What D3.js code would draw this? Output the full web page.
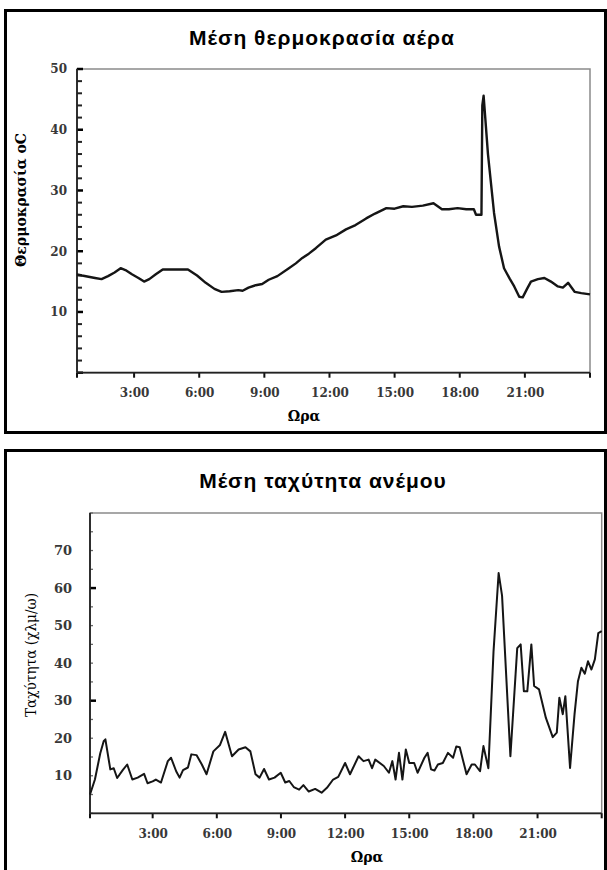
<!DOCTYPE html>
<html>
<head>
<meta charset="utf-8">
<script src="https://cdn.jsdelivr.net/npm/d3@7"></script>
<style>
  body { margin: 0; background: #fff; }
  svg { display: block; }
  .tick text { font-family: "DejaVu Serif", serif; font-weight: bold; fill: #383838; }
  .domain { display: none; }
</style>
</head>
<body>
<svg id="chart" width="607" height="870"></svg>
<script>
// --- data ---
var hourTicks = [3, 6, 9, 12, 15, 18, 21, 24];

// Μέση θερμοκρασία αέρα : [ώρα, °C]
var tempPoints = [
  [0.37,16.2],[0.6,16.0],[0.9,15.8],[1.2,15.6],[1.5,15.4],[1.8,15.9],[2.1,16.5],[2.38,17.2],
  [2.6,16.9],[2.9,16.2],[3.2,15.6],[3.46,15.0],[3.7,15.4],[4.0,16.2],[4.32,17.0],[4.7,17.0],
  [5.1,17.0],[5.48,17.0],[5.9,16.0],[6.3,14.8],[6.7,13.8],[7.03,13.3],[7.4,13.4],[7.8,13.6],
  [8.0,13.5],[8.27,14.0],[8.6,14.4],[8.9,14.6],[9.2,15.3],[9.6,15.9],[10.13,17.2],[10.45,18.0],
  [10.75,18.9],[11.05,19.6],[11.37,20.5],[11.83,21.9],[12.3,22.6],[12.76,23.6],[13.2,24.3],
  [13.69,25.4],[14.1,26.2],[14.62,27.1],[15.0,27.0],[15.4,27.4],[15.8,27.3],[16.3,27.5],
  [16.79,27.9],[17.18,26.9],[17.5,26.9],[17.9,27.1],[18.3,26.9],[18.65,26.9],[18.75,26.0],
  [19.0,26.0],[19.04,44.0],[19.1,45.6],[19.3,36.0],[19.58,26.3],[19.81,20.8],[20.04,17.2],
  [20.3,15.5],[20.51,14.2],[20.74,12.5],[20.9,12.4],[21.1,13.8],[21.28,15.0],[21.6,15.4],
  [21.9,15.6],[22.2,15.0],[22.52,14.2],[22.75,14.0],[22.99,14.8],[23.3,13.3],[23.6,13.1],[24.0,12.9]
];

// Μέση ταχύτητα ανέμου : [ώρα, χλμ/ω]
var windPoints = [
  [0.07,5],[0.3,9],[0.55,16],[0.71,19.2],[0.79,19.7],[1.02,11.7],[1.18,12],[1.34,9.4],[1.6,11.5],
  [1.81,13],[2.05,9],[2.3,9.5],[2.6,10.5],[2.76,8],[3.0,8.5],[3.15,9],[3.39,8.2],[3.71,13.9],
  [3.86,14.8],[4.1,11.2],[4.26,9.5],[4.42,11.5],[4.65,12.2],[4.81,15.7],[5.05,15.5],[5.3,13],
  [5.52,10.4],[5.84,16.5],[6.15,18.2],[6.39,21.7],[6.71,15.2],[7.02,17],[7.34,17.6],[7.57,16.5],
  [7.81,10.4],[8.0,9.5],[8.21,11.8],[8.44,9],[8.7,9.5],[8.99,10.8],[9.2,8.2],[9.39,8.6],[9.6,7],
  [9.85,6.3],[10.05,7.5],[10.3,5.8],[10.6,6.5],[10.9,5.5],[11.15,6.8],[11.44,9],[11.68,9.7],
  [12.0,13.4],[12.23,10.4],[12.63,15.2],[12.86,13.9],[13.1,14.3],[13.26,12],[13.41,14.3],
  [13.81,12.6],[14.05,10.8],[14.21,13.9],[14.36,9],[14.52,16.1],[14.68,9],[14.84,17],[15.0,13.4],
  [15.23,13.4],[15.39,10.8],[15.71,14.8],[15.86,16.1],[16.02,11.7],[16.18,11.4],[16.34,13],
  [16.57,13.4],[16.81,16.1],[17.05,14.8],[17.2,17.8],[17.36,17.6],[17.68,10.4],[17.92,13],
  [18.07,13],[18.31,11.2],[18.47,17.9],[18.7,12],[18.94,43],[19.18,64],[19.34,58],[19.73,15.2],
  [20.05,44],[20.21,45],[20.36,32.5],[20.52,32.5],[20.71,45],[20.84,33.9],[21.07,33],[21.39,25.4],
  [21.71,20.3],[21.9,21.5],[22.02,30.8],[22.18,26.4],[22.3,31.2],[22.52,12.1],[22.73,26.4],
  [22.89,35.2],[23.05,38.8],[23.21,37.2],[23.36,40.5],[23.52,38.3],[23.68,41],[23.84,48],[24.0,48.5]
];

var tempYTicks = d3.range(0, 51, 2);
var tempYLabels = [10, 20, 30, 40, 50];
var windYTicks = d3.range(0, 81, 5);
var windYLabels = [10, 20, 30, 40, 50, 60, 70];

var svg = d3.select("#chart");

function hourLabel(h) { return h === 24 ? "" : h + ":00"; }

function drawPanel(cfg) {
  // outer frame
  svg.append("rect")
    .attr("x", 5.5).attr("y", cfg.frameTop)
    .attr("width", 600).attr("height", cfg.frameHeight)
    .attr("fill", "none").attr("stroke", "#000").attr("stroke-width", 3);

  svg.append("text")
    .attr("x", cfg.titleX).attr("y", cfg.titleY)
    .attr("text-anchor", "middle")
    .style("font-family", "'Liberation Sans', Arial, sans-serif")
    .style("font-weight", "bold").style("font-size", "21px")
    .style("letter-spacing", "1px")
    .text(cfg.title);

  var x = d3.scaleLinear().domain(cfg.xDomain).range([cfg.left, cfg.right]);
  var y = d3.scaleLinear().domain(cfg.yDomain).range([cfg.bottom, cfg.top]);

  // plot box (top/right grey)
  svg.append("rect")
    .attr("x", cfg.left).attr("y", cfg.top)
    .attr("width", cfg.right - cfg.left).attr("height", cfg.bottom - cfg.top)
    .attr("fill", "none").attr("stroke", "#8a8a8a").attr("stroke-width", 1.5);

  // labels from d3 axes, tick marks drawn below
  var xAxis = svg.append("g")
    .attr("transform", "translate(0," + cfg.bottom + ")")
    .call(d3.axisBottom(x).tickValues(hourTicks).tickFormat(hourLabel)
      .tickSize(0).tickPadding(cfg.xPad));
  xAxis.selectAll(".tick text").style("font-size", "12px");

  var yAxis = svg.append("g")
    .attr("transform", "translate(" + cfg.left + ",0)")
    .call(d3.axisLeft(y).tickValues(cfg.yLabels).tickSize(0).tickPadding(cfg.yPad));
  yAxis.selectAll(".tick text").style("font-size", cfg.yFont);

  svg.append("g").selectAll("line")
    .data(hourTicks.concat([cfg.xDomain[0]]))
    .join("line")
    .attr("x1", function(d) { return x(d); }).attr("x2", function(d) { return x(d); })
    .attr("y1", cfg.bottom).attr("y2", cfg.bottom + 5)
    .attr("stroke", "#111").attr("stroke-width", 2);

  svg.append("g").selectAll("line")
    .data(cfg.yTicks)
    .join("line")
    .attr("x1", cfg.left)
    .attr("x2", function(d) { return cfg.left + (cfg.majorTick(d) ? 6 : cfg.minorLen); })
    .attr("y1", function(d) { return y(d); }).attr("y2", function(d) { return y(d); })
    .attr("stroke", function(d) { return cfg.majorTick(d) ? "#000" : cfg.minorColor; })
    .attr("stroke-width", function(d) { return cfg.majorTick(d) ? 2.5 : cfg.minorWidth; });

  // left and bottom axis lines
  svg.append("line")
    .attr("x1", cfg.left).attr("x2", cfg.left).attr("y1", cfg.top).attr("y2", cfg.bottom)
    .attr("stroke", "#222").attr("stroke-width", 1.8);
  svg.append("line")
    .attr("x1", cfg.left).attr("x2", cfg.right).attr("y1", cfg.bottom).attr("y2", cfg.bottom)
    .attr("stroke", "#222").attr("stroke-width", 1.8);

  var line = d3.line().x(function(d) { return x(d[0]); }).y(function(d) { return y(d[1]); });
  svg.append("path")
    .datum(cfg.data)
    .attr("d", line)
    .attr("fill", "none").attr("stroke", "#151515")
    .attr("stroke-width", cfg.lineWidth).attr("stroke-linejoin", "round");

  svg.append("text")
    .attr("transform", "translate(" + cfg.yTitleX + "," + cfg.yTitleY + ") rotate(-90)")
    .attr("text-anchor", "middle")
    .style("font-family", "'DejaVu Serif', serif")
    .style("font-weight", cfg.yTitleWeight).style("font-size", "14px")
    .attr("textLength", cfg.yTitleLen).attr("lengthAdjust", "spacingAndGlyphs")
    .text(cfg.yTitle);

  svg.append("text")
    .attr("x", cfg.xTitleX).attr("y", cfg.xTitleY)
    .attr("text-anchor", "middle")
    .style("font-family", "'DejaVu Serif', serif")
    .style("font-weight", "bold").style("font-size", "14px")
    .text("Ωρα");
}

drawPanel({
  frameTop: 10.5, frameHeight: 422,
  title: "Μέση θερμοκρασία αέρα", titleX: 322, titleY: 45,
  left: 77, right: 590, top: 69, bottom: 372.7,
  xDomain: [0.37, 24], yDomain: [0, 50], yTicks: tempYTicks, yLabels: tempYLabels,
  majorTick: function(d) { return d % 10 === 0; }, minorLen: 5, minorColor: "#222", minorWidth: 2,
  xPad: 16, yPad: 10, yFont: "12px",
  data: tempPoints, lineWidth: 2.4,
  yTitle: "Θερμοκρασία oC", yTitleX: 26, yTitleY: 200, yTitleLen: 134, yTitleWeight: "bold",
  xTitleX: 304, xTitleY: 421
});

drawPanel({
  frameTop: 450.5, frameHeight: 430,
  title: "Μέση ταχύτητα ανέμου", titleX: 323, titleY: 488,
  left: 90, right: 601.7, top: 513, bottom: 813.3,
  xDomain: [0.07, 24], yDomain: [0, 80], yTicks: windYTicks, yLabels: windYLabels,
  majorTick: function(d) { return d === 30 || d === 60; }, minorLen: 3, minorColor: "#666", minorWidth: 1.3,
  xPad: 16, yPad: 18, yFont: "13px",
  data: windPoints, lineWidth: 2,
  yTitle: "Ταχύτητα (χλμ/ω)", yTitleX: 36, yTitleY: 655, yTitleLen: 124, yTitleWeight: "normal",
  xTitleX: 367, xTitleY: 862
});
</script>
</body>
</html>
